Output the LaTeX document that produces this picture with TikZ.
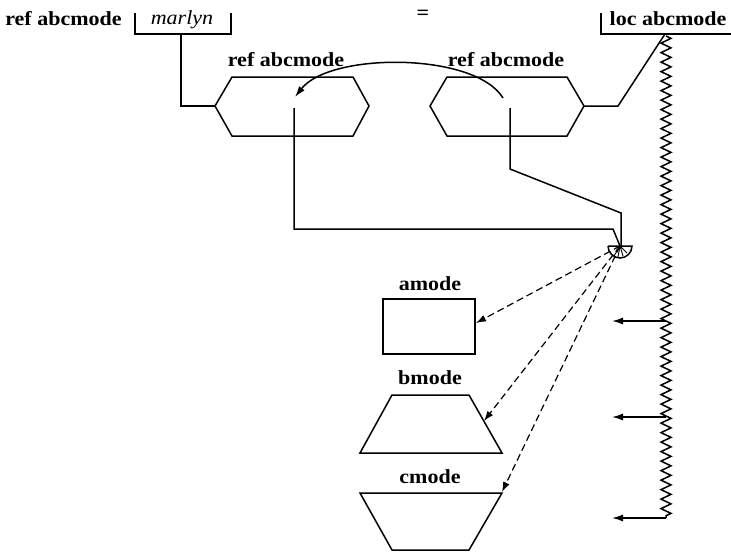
\documentclass[tikz,border=0pt]{standalone}
\usepackage{fontspec}
\setmainfont[FakeStretch=1.1]{Liberation Serif}
\usetikzlibrary{arrows.meta,decorations.pathmorphing}
\begin{document}
\begin{tikzpicture}[x=1pt,y=-1pt,
  ln/.style={line width=1.5pt},
  lbl/.style={inner sep=0pt,anchor=base,font=\fontsize{20}{24}\selectfont\bfseries},
  arr/.style={ln,-{Latex[length=11pt,width=7pt]}},
  darr/.style={line width=1.2pt,dash pattern=on 7pt off 4pt,-{Latex[length=10pt,width=7pt]}}]
\useasboundingbox (0,0) rectangle (731,552);
% top texts
\node[lbl] (t1) at (63.5,25) {ref abcmode};
\node[lbl] (mar) at (182,24) {\mdseries\itshape marlyn};
\node[inner sep=0pt,font=\fontsize{20}{24}\selectfont\bfseries] (eq) at (423,15) {=};
\node[lbl] (loc) at (668,25) {loc abcmode};
% brackets
\draw[ln] (135,13) -- (135,34) -- (231,34) -- (231,13);
\draw[ln] (601,13) -- (601,34) -- (731,34);
% hexagons
\coordinate (h1l) at (215,106);
\coordinate (h1r) at (369,106);
\coordinate (h2l) at (430,106);
\coordinate (h2r) at (584,106);
\draw[ln] (h1l) -- (232,77) -- (353,77) -- (h1r) -- (353,136) -- (232,136) -- cycle;
\draw[ln] (h2l) -- (447,77) -- (567,77) -- (h2r) -- (567,136) -- (447,136) -- cycle;
\node[lbl] (hl1) at (286,66) {ref abcmode};
\node[lbl] (hl2) at (506,66) {ref abcmode};
% connectors to brackets
\coordinate (mb) at (181,34);
\coordinate (lb) at (665,34);
\draw[ln] (mb) -- (181,106) -- (h1l);
\draw[ln] (h2r) -- (618,106) -- (lb);
% arc arrow
\coordinate (as) at (503,98);
\coordinate (ae) at (295,97);
\draw[arr] (as) .. controls (475,52) and (330,52) .. (ae);
% semicircle
\coordinate (sc) at (620,246);
\draw[ln] (608,246) -- (632,246) arc[start angle=0,end angle=180,radius=12];
\draw[line width=0.9pt] (sc) -- (614,256) (sc) -- (618,257) (sc) -- (623,256) (sc) -- (627,253);
% verticals from hexagons
\draw[ln] (294,108) -- (294,229) -- (613,229) -- (sc);
\draw[ln] (510,108) -- (510,169) -- (621,213) -- (621,246);
% targets
\coordinate (ta) at (476,323);
\coordinate (tb) at (484,421);
\coordinate (tc) at (502,492);
\draw[ln] (383,299) rectangle (475,354);
\draw[ln] (392,395) -- (469,395) -- (502,453) -- (360,453) -- cycle;
\draw[ln] (360,493) -- (502,493) -- (469,550) -- (392,550) -- cycle;
\node[lbl] (am) at (430,290) {amode};
\node[lbl] (bm) at (430,384) {bmode};
\node[lbl] (cm) at (430,483) {cmode};
\draw[darr] (sc) -- (ta);
\draw[darr] (sc) -- (tb);
\draw[darr] (sc) -- (tc);
% zigzag and arrows
\coordinate (z0) at (666,36);
\coordinate (z3) at (666,518);
\draw[ln,decorate,decoration={zigzag,segment length=9.5pt,amplitude=5pt}] (z0) -- (z3);
\coordinate (z1) at (666,321);
\coordinate (z2) at (666,417);
\coordinate (e1) at (612,321);
\coordinate (e2) at (612,417);
\coordinate (e3) at (612,518);
\draw[arr] (z1) -- (e1);
\draw[arr] (z2) -- (e2);
\draw[arr] (z3) -- (e3);
\end{tikzpicture}
\end{document}
